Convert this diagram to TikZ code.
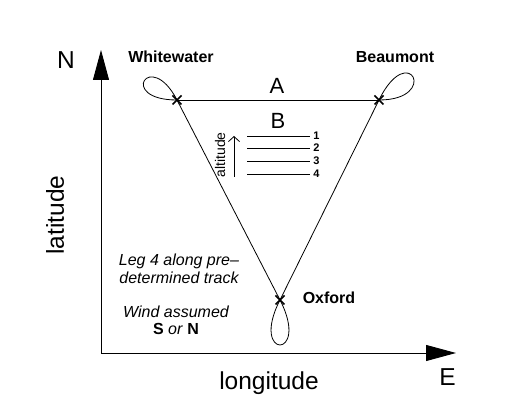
\documentclass[tikz,border=0pt]{standalone}
\usepackage{fontspec}
\setmainfont{Liberation Sans}
\usetikzlibrary{arrows.meta,calc}
\begin{document}
\begin{tikzpicture}[x=1pt,y=1pt,line width=0.8pt,
  big/.style={font=\fontsize{24.5}{28}\selectfont, inner sep=0pt},
  letter/.style={font=\fontsize{22}{26}\selectfont, inner sep=0pt},
  city/.style={font=\bfseries\fontsize{16}{18}\selectfont, inner sep=0pt},
  note/.style={font=\itshape\fontsize{16}{18}\selectfont, inner sep=0pt},
  num/.style={font=\bfseries\fontsize{11}{12}\selectfont, inner sep=0pt},
  cross/.style={line width=1.7pt},
  axis/.style={line width=0.9pt,-{Triangle[length=30pt,width=16pt]}},
  level/.style={line width=0.9pt}]
\useasboundingbox (0,0) rectangle (507,404);
% key points
\coordinate (ww) at (177,304);
\coordinate (bm) at (379,304);
\coordinate (ox) at (280,104);
\coordinate (orig) at (101,51);
\coordinate (ytip) at (101,354);
\coordinate (xtip) at (456,51);
% axes
\draw[axis] (orig) -- (ytip);
\draw[axis] (orig) -- (xtip);
% triangle
\draw (ww) -- (bm);
\draw (ww) -- (ox);
\draw (bm) -- (ox);
% loops
\draw (ww) .. controls (150,356) and (117,304) .. (ww);
\draw (bm) .. controls (409,365) and (440,304) .. (bm);
\draw (ox) .. controls (311,44) and (249,44) .. (ox);
% crosses
\foreach \p in {ww,bm,ox}{
  \draw[cross] ($(\p)+(-4.5,-4.5)$) -- ($(\p)+(4.5,4.5)$);
  \draw[cross] ($(\p)+(-4.5,4.5)$) -- ($(\p)+(4.5,-4.5)$);
}
% labels
\node[big] (n) at (66,344) {N};
\node[big] (e) at (447.5,27) {E};
\node[big, rotate=90] (lat) at (55,189) {latitude};
\node[big] (lon) at (269,21) {longitude};
\node[city] (wwl) at (171,347) {Whitewater};
\node[city] (bml) at (395,347) {Beaumont};
\node[city] (oxl) at (329,106) {Oxford};
\node[letter] (a) at (277,318) {A};
\node[letter] (b) at (278,283) {B};
% altitude levels
\foreach \y/\k in {268/1,256/2,243/3,230/4}{
  \coordinate (l\k a) at (247,\y);
  \coordinate (l\k b) at (310,\y);
  \draw[level] (l\k a) -- (l\k b);
  \node[num] (n\k) at (316.5,\y) {\k};
}
\coordinate (alt0) at (234,227);
\coordinate (alt1) at (234,268);
\draw[-{Straight Barb[length=5pt,width=11pt]}] (alt0) -- (alt1);
\node[font=\fontsize{14}{16}\selectfont, rotate=90, inner sep=0pt] (altl) at (220,249) {altitude};
% notes
\node[note] (leg1) at (179,143) {Leg 4 along pre--};
\node[note] (leg2) at (179,126) {determined track};
\node[note] (w1) at (176,92) {Wind assumed};
\node[font=\fontsize{16}{18}\selectfont, inner sep=0pt] (w2) at (176,75) {\textbf{S} \textit{or} \textbf{N}};
\end{tikzpicture}
\end{document}
